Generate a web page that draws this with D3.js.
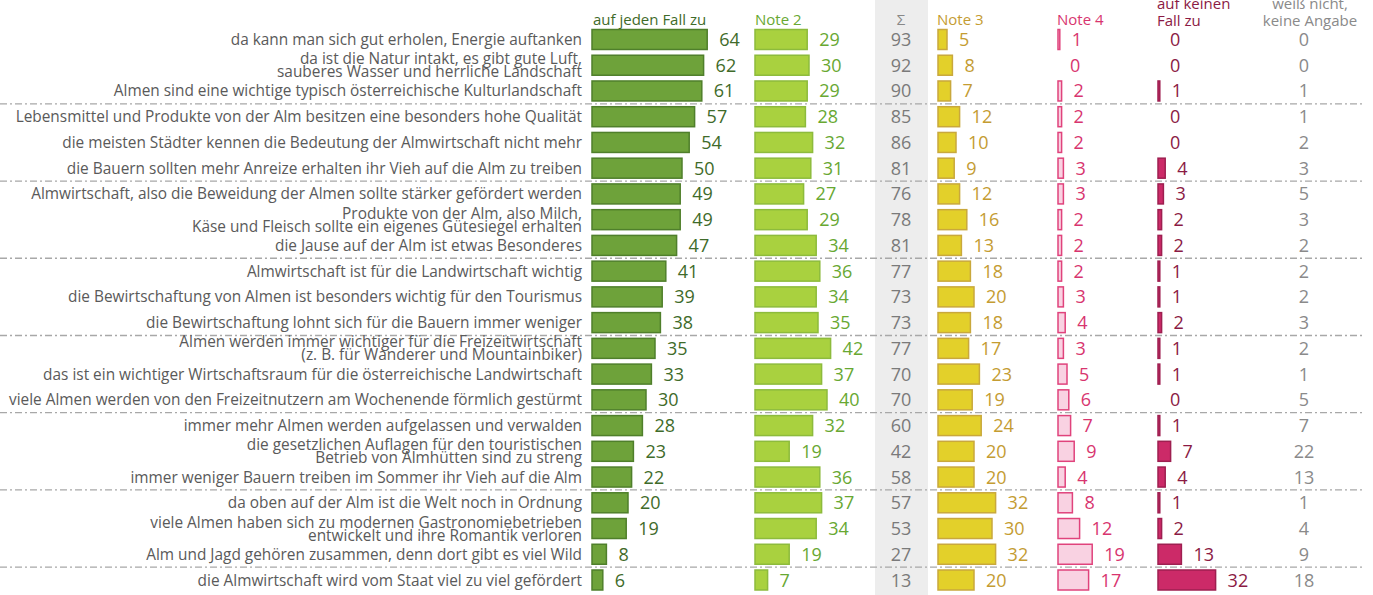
<!DOCTYPE html>
<html>
<head>
<meta charset="utf-8">
<script src="https://cdn.jsdelivr.net/npm/d3@7"></script>
<style>
  body { margin: 0; background: #fff; }
  svg text { font-family: "Open Sans", sans-serif; }
</style>
</head>
<body>
<div id="chart"></div>
<script>
// Statements (rows), "\n" marks a line break
var labels = [
    "da kann man sich gut erholen, Energie auftanken",
    "da ist die Natur intakt, es gibt  gute Luft,\nsauberes Wasser und herrliche Landschaft",
    "Almen sind eine wichtige typisch österreichische Kulturlandschaft",
    "Lebensmittel und Produkte von der Alm besitzen eine besonders hohe Qualität",
    "die meisten Städter kennen die Bedeutung der Almwirtschaft nicht mehr",
    "die Bauern sollten mehr Anreize erhalten ihr Vieh auf die Alm zu treiben",
    "Almwirtschaft, also die Beweidung der Almen sollte stärker gefördert werden",
    "Produkte von der Alm, also Milch,\nKäse und Fleisch sollte ein eigenes Gütesiegel erhalten",
    "die Jause auf der Alm ist etwas Besonderes",
    "Almwirtschaft ist für die Landwirtschaft wichtig",
    "die Bewirtschaftung von Almen ist besonders wichtig für den Tourismus",
    "die Bewirtschaftung lohnt sich für die Bauern immer weniger",
    "Almen werden immer wichtiger für die Freizeitwirtschaft\n(z. B. für Wanderer und Mountainbiker)",
    "das ist ein wichtiger Wirtschaftsraum für die österreichische Landwirtschaft",
    "viele Almen werden von den Freizeitnutzern am Wochenende förmlich gestürmt",
    "immer mehr Almen werden aufgelassen und verwalden",
    "die gesetzlichen Auflagen für den touristischen\nBetrieb von Almhütten sind zu streng",
    "immer weniger Bauern treiben im Sommer ihr Vieh auf die Alm",
    "da oben auf der Alm ist die Welt noch in Ordnung",
    "viele Almen haben sich zu modernen Gastronomiebetrieben\nentwickelt und ihre Romantik verloren",
    "Alm und Jagd gehören zusammen, denn dort gibt es viel Wild",
    "die Almwirtschaft wird vom Staat viel zu viel gefördert"
];

var jaVals    = [64, 62, 61, 57, 54, 50, 49, 49, 47, 41, 39, 38, 35, 33, 30, 28, 23, 22, 20, 19, 8, 6];
var note2Vals = [29, 30, 29, 28, 32, 31, 27, 29, 34, 36, 34, 35, 42, 37, 40, 32, 19, 36, 37, 34, 19, 7];
var sumVals   = [93, 92, 90, 85, 86, 81, 76, 78, 81, 77, 73, 73, 77, 70, 70, 60, 42, 58, 57, 53, 27, 13];
var note3Vals = [5, 8, 7, 12, 10, 9, 12, 16, 13, 18, 20, 18, 17, 23, 19, 24, 20, 20, 32, 30, 32, 20];
var note4Vals = [1, 0, 2, 2, 2, 3, 3, 2, 2, 2, 3, 4, 3, 5, 6, 7, 9, 4, 8, 12, 19, 17];
var neinVals  = [0, 0, 1, 0, 0, 4, 3, 2, 2, 1, 1, 2, 1, 1, 0, 1, 7, 4, 1, 2, 13, 32];
var wnVals    = [0, 0, 1, 1, 2, 3, 5, 3, 2, 2, 2, 3, 2, 1, 5, 7, 22, 13, 1, 4, 9, 18];

var W = 1373, H = 595;
var svg = d3.select("#chart").append("svg")
    .attr("width", W)
    .attr("height", H);

var y = d3.scaleLinear().domain([0, labels.length - 1]).range([39.5, 580]);
var x = d3.scaleLinear().domain([0, 100]).range([0, 180]);
var barH = 20;

// grey background of the sum column
svg.append("rect")
    .attr("x", 875).attr("y", 0)
    .attr("width", 53).attr("height", H)
    .attr("fill", "#ededed");

// dash-dot separators after every third row
var seps = d3.range(2, labels.length - 1, 3);
svg.append("g").selectAll("line")
    .data(seps)
    .enter().append("line")
    .attr("x1", 0).attr("x2", 1362)
    .attr("y1", function(d){ return (y(d) + y(d + 1)) / 2; })
    .attr("y2", function(d){ return (y(d) + y(d + 1)) / 2; })
    .attr("stroke", "#a8a8a8")
    .attr("stroke-width", 1.3)
    .attr("stroke-dasharray", "7,3,2,3");

// row labels
var lab = svg.append("g").selectAll("text")
    .data(labels)
    .enter().append("text")
    .attr("x", 582)
    .attr("text-anchor", "end")
    .attr("fill", "#5a5a5a")
    .attr("font-size", "15.4px");
lab.each(function(d, i){
    var lines = d.split("\n");
    var t = d3.select(this);
    lines.forEach(function(l, k){
        var off = lines.length == 1 ? 0 : (k == 0 ? -6.5 : 6.5);
        t.append("tspan")
            .attr("x", 582)
            .attr("y", y(i) + off + 5.5)
            .text(l);
    });
});

// bar columns
var cols = [
    {vals: jaVals,    x0: 592,  fill: "#6ea23a", stroke: "#4f7f2b", text: "#3f6b2a"},
    {vals: note2Vals, x0: 755,  fill: "#a9d13f", stroke: "#8dbb3c", text: "#68a832"},
    {vals: note3Vals, x0: 938,  fill: "#e3d02a", stroke: "#c9a83c", text: "#c49c32"},
    {vals: note4Vals, x0: 1058, fill: "#f9d2e2", stroke: "#e0437c", text: "#d8356f"},
    {vals: neinVals,  x0: 1158, fill: "#cc2a68", stroke: "#9e1f50", text: "#8b1a44"}
];

cols.forEach(function(c){
    var g = svg.append("g").attr("transform", "translate(" + c.x0 + ",0)");
    g.selectAll("rect")
        .data(c.vals.map(function(v, i){ return {v: v, i: i}; }).filter(function(d){ return d.v > 0; }))
        .enter().append("rect")
        .attr("x", 0)
        .attr("y", function(d){ return y(d.i) - barH / 2; })
        .attr("width", function(d){ return x(d.v); })
        .attr("height", barH)
        .attr("fill", c.fill)
        .attr("stroke", c.stroke)
        .attr("stroke-width", 1.5);
    g.selectAll("text")
        .data(c.vals)
        .enter().append("text")
        .attr("x", function(d){ return x(d) + 12; })
        .attr("y", function(d, i){ return y(i) + 6.5; })
        .attr("fill", c.text)
        .attr("font-size", "18px")
        .text(function(d){ return d; });
});

// plain number columns
svg.append("g").selectAll("text")
    .data(sumVals)
    .enter().append("text")
    .attr("x", 901)
    .attr("y", function(d, i){ return y(i) + 6.5; })
    .attr("text-anchor", "middle")
    .attr("fill", "#7a7a7a")
    .attr("font-size", "18px")
    .text(function(d){ return d; });

svg.append("g").selectAll("text")
    .data(wnVals)
    .enter().append("text")
    .attr("x", 1304)
    .attr("y", function(d, i){ return y(i) + 6.5; })
    .attr("text-anchor", "middle")
    .attr("fill", "#8a8a8a")
    .attr("font-size", "18px")
    .text(function(d){ return d; });

// headers
var heads = [
    {t: ["auf jeden Fall zu"], x: 593, anchor: "start", fill: "#3f6b2a"},
    {t: ["Note 2"], x: 755, anchor: "start", fill: "#68a832"},
    {t: ["Σ"], x: 901, anchor: "middle", fill: "#888888"},
    {t: ["Note 3"], x: 937, anchor: "start", fill: "#c49c32"},
    {t: ["Note 4"], x: 1057, anchor: "start", fill: "#d8356f"},
    {t: ["auf keinen", "Fall zu"], x: 1157, anchor: "start", fill: "#8b1a44"},
    {t: ["weiß nicht,", "keine Angabe"], x: 1310, anchor: "middle", fill: "#8a8a8a"}
];
heads.forEach(function(h){
    h.t.forEach(function(l, k){
        svg.append("text")
            .attr("x", h.x)
            .attr("y", h.t.length == 1 ? 25 : 9 + k * 17)
            .attr("text-anchor", h.anchor)
            .attr("fill", h.fill)
            .attr("font-size", "15px")
            .text(l);
    });
});
</script>
</body>
</html>
